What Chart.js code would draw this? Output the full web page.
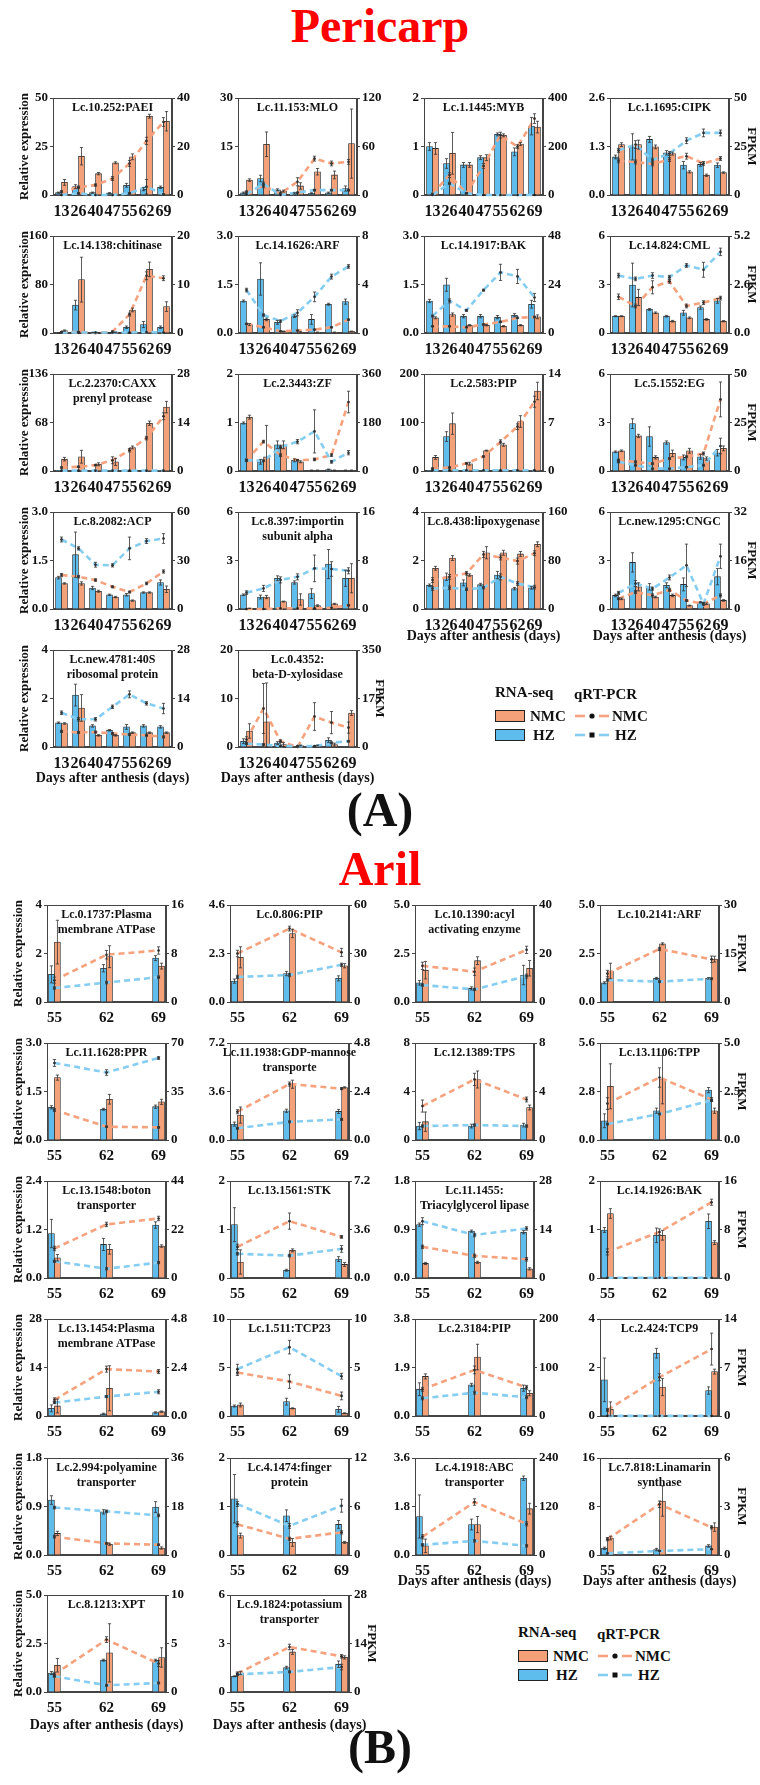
<!DOCTYPE html>
<html>
<head>
<meta charset="utf-8">
<script src="https://cdn.jsdelivr.net/npm/chart.js@4.4.1/dist/chart.umd.min.js"></script>
<style>
  body { margin: 0; background: #fff; }
  #page { position: relative; width: 760px; height: 1785px; overflow: hidden; background: #fff;
          font-family: "Liberation Serif", "Times New Roman", serif; font-weight: bold; color: #111; }
  #page canvas { position: absolute; }
  .txt { position: absolute; white-space: nowrap; }
  .big { font-size: 48px; line-height: 48px; }
  .red { color: #ff0000; }
  .leg { font-size: 15px; line-height: 18px; }
  .sw { position: absolute; width: 28px; height: 10px; border: 1px solid #222; }
</style>
</head>
<body>
<div id="page"></div>
<script>
"use strict";

// ---- data ----
const periDays = ["13", "26", "40", "47", "55", "62", "69"];
const arilDays = [55, 62, 69];

const periGenes = [
  "Lc.10.252:PAEI", "Lc.11.153:MLO", "Lc.1.1445:MYB", "Lc.1.1695:CIPK",
  "Lc.14.138:chitinase", "Lc.14.1626:ARF", "Lc.14.1917:BAK", "Lc.14.824:CML",
  "Lc.2.2370:CAXX\nprenyl protease", "Lc.2.3443:ZF", "Lc.2.583:PIP", "Lc.5.1552:EG",
  "Lc.8.2082:ACP", "Lc.8.397:importin\nsubunit alpha", "Lc.8.438:lipoxygenase", "Lc.new.1295:CNGC",
  "Lc.new.4781:40S\nribosomal protein", "Lc.0.4352:\nbeta-D-xylosidase"
];
const periLeftMax = ["50", "30", "2", "2.6", "160", "3.0", "3.0", "6", "136", "2", "200", "6", "3.0", "6", "4", "6", "4", "20"];
const periRightMax = ["40", "120", "400", "50", "20", "8", "48", "5.2", "28", "360", "14", "50", "60", "16", "160", "32", "28", "350"];

const periHzBar = [
  [1.2, 4.3, 1.2, 1.0, 5.0, 3.0, 4.0],
  [0.7, 5.1, 1.6, 0.5, 0.5, 0.7, 2.0],
  [1.0, 0.65, 0.62, 0.77, 1.25, 0.89, 1.42],
  [1.02, 1.29, 1.49, 1.13, 0.80, 0.82, 0.80],
  [0.5, 46, 0.5, 0.5, 9.5, 14, 9.5],
  [0.99, 1.67, 0.33, 0.52, 0.42, 0.89, 0.97],
  [0.99, 1.49, 0.52, 0.52, 0.49, 0.55, 0.89],
  [1.04, 2.97, 1.46, 1.04, 1.25, 1.57, 1.99],
  [0.5, 0.5, 0.5, 0.5, 1, 1, 1],
  [0.99, 0.19, 0.54, 0.22, 0.01, 0.03, 0.01],
  [0.5, 71, 1, 1, 1, 1, 1],
  [1.19, 2.93, 2.13, 1.76, 0.84, 0.88, 1.13],
  [0.97, 1.68, 0.65, 0.44, 0.44, 0.51, 0.82],
  [0.88, 0.74, 1.9, 1.64, 0.95, 2.78, 1.9],
  [0.98, 1.33, 1.08, 1.01, 1.40, 0.84, 0.87],
  [0.84, 2.88, 1.37, 1.47, 1.52, 0.42, 2.0],
  [1.0, 2.14, 0.87, 0.69, 0.83, 0.87, 0.83],
  [1.2, 0.1, 0.8, 0.1, 0.1, 1.4, 0.1]
];
const periHzBarErr = [
  [0.3, 1.0, 0.3, 0.2, 1.0, 0.8, 0.6],
  [0.2, 1.0, 0.3, 0.2, 0.2, 0.2, 0.8],
  [0.08, 0.1, 0.05, 0.04, 0.03, 0.08, 0.18],
  [0.05, 0.35, 0.08, 0.06, 0.1, 0.05, 0.06],
  [0.3, 8, 0.2, 0.2, 2, 5, 2],
  [0.03, 0.5, 0.06, 0.04, 0.15, 0.03, 0.08],
  [0.05, 0.2, 0.05, 0.05, 0.05, 0.05, 0.12],
  [0.03, 1.35, 0.06, 0.05, 0.15, 0.1, 0.15],
  [0, 0, 0, 0, 0, 0, 0],
  [0.02, 0.05, 0.08, 0.03, 0.01, 0.01, 0.01],
  [0, 10, 0, 0, 0, 0, 0],
  [0.05, 0.3, 0.6, 0.1, 0.15, 0.15, 0.2],
  [0.04, 0.7, 0.05, 0.02, 0.04, 0.02, 0.08],
  [0.05, 0.12, 0.15, 0.1, 0.3, 0.9, 0.5],
  [0.05, 0.15, 0.12, 0.05, 0.15, 0.05, 0.05],
  [0.08, 0.6, 0.2, 0.15, 0.4, 0.05, 0.5],
  [0.03, 0.45, 0.05, 0.03, 0.1, 0.05, 0.05],
  [0.5, 0, 0.3, 0, 0, 0.5, 0]
];
const periNmcBar = [
  [6.5, 20, 11, 16.6, 19.7, 40.6, 38],
  [4.6, 15.7, 1.2, 2.8, 7.2, 6.2, 15.9],
  [0.96, 0.86, 0.62, 0.77, 1.23, 1.05, 1.40],
  [1.35, 1.35, 1.29, 1.11, 0.62, 0.53, 0.60],
  [4, 88, 0.5, 1, 38, 105, 43.5],
  [0.26, 0.42, 0.05, 0.03, 0.02, 0.02, 0.05],
  [0.47, 0.57, 0.24, 0.24, 0.21, 0.24, 0.50],
  [1.04, 2.2, 1.25, 0.73, 0.94, 0.84, 0.73],
  [16.6, 20, 9.5, 12.8, 33, 67, 89.6],
  [1.11, 0.29, 0.54, 0.19, 0.01, 0.01, 0.01],
  [28, 97.6, 15, 42, 54, 102, 165],
  [1.25, 2.17, 0.84, 1.09, 1.25, 0.77, 1.40],
  [0.79, 0.79, 0.55, 0.37, 0.26, 0.51, 0.61],
  [0.04, 0.74, 0.46, 0.59, 0.21, 0.32, 1.9],
  [1.68, 2.1, 1.40, 2.32, 2.32, 2.27, 2.67],
  [0.63, 1.37, 0.74, 0.84, 0.21, 0.32, 0.53],
  [0.97, 1.61, 0.48, 0.48, 0.59, 0.59, 0.59],
  [3.3, 5.2, 0.5, 0.3, 0.3, 0.5, 7.0]
];
const periNmcBarErr = [
  [1.5, 4.5, 0.6, 0.5, 1.5, 1.0, 5.0],
  [0.4, 3.8, 0.3, 1.0, 1.0, 1.2, 10.7],
  [0.12, 0.43, 0.05, 0.06, 0.03, 0.03, 0.12],
  [0.05, 0.12, 0.05, 0.04, 0.03, 0.03, 0.02],
  [1, 37, 0.2, 0.5, 3, 12, 8],
  [0.03, 0.04, 0.01, 0.01, 0.01, 0.01, 0.01],
  [0.03, 0.05, 0.02, 0.02, 0.02, 0.02, 0.06],
  [0.03, 0.5, 0.05, 0.05, 0.05, 0.05, 0.04],
  [2.5, 9, 2, 5, 2, 3, 8],
  [0.04, 0.65, 0.08, 0.02, 0.01, 0.01, 0.01],
  [4, 22, 3, 1, 3, 12, 18],
  [0.05, 0.1, 0.1, 0.2, 0.15, 0.1, 0.15],
  [0.02, 0.05, 0.03, 0.02, 0.02, 0.02, 0.1],
  [0.01, 0.1, 0.03, 0.35, 0.05, 0.03, 0.9],
  [0.08, 0.1, 0.05, 0.25, 0.1, 0.1, 0.1],
  [0.05, 0.25, 0.05, 0.08, 0.03, 0.05, 0.05],
  [0.03, 0.55, 0.03, 0.03, 0.03, 0.03, 0.03],
  [1.5, 8, 0.4, 0.1, 0.1, 0.3, 0.5]
];
const periHzLine = [
  [0, 0.7, 0, 0, 0.7, 3.4, 0.3],
  [0.8, 14, 0, 3, 6, 6, 6],
  [0, 48, 7, 0, 0, 0, 0],
  [23, 26, 18, 21.4, 28, 32, 32],
  [0.1, 0.1, 0.1, 0.1, 0.1, 0.2, 0.1],
  [3.54, 1.48, 0.98, 1.67, 2.98, 4.65, 5.49],
  [8.4, 15.9, 11.2, 21.2, 30, 28, 17.6],
  [3.08, 2.9, 3.08, 2.99, 3.62, 3.39, 4.35],
  [0.1, 0.1, 0.1, 0.1, 0.1, 0.1, 0.1],
  [40, 38, 88, 109, 147, 34, 68],
  [0.1, 0.1, 0.1, 0.1, 0.1, 0.1, 0.1],
  [4.7, 3, 1.2, 1.2, 2, 3, 12.9],
  [43, 37.5, 27.4, 27, 37.5, 42, 43.6],
  [2.7, 3.4, 4.8, 5.3, 6.7, 6.6, 6.3],
  [33.7, 35, 32.6, 35, 53, 42, 36],
  [5.3, 8.4, 6.7, 10.4, 14.4, 1.7, 17.4],
  [9.9, 8.0, 8.0, 11.6, 15.2, 12.6, 11.1],
  [12, 9, 3, 3, 3, 15, 21]
];
const periHzLineErr = [
  [0, 0.2, 0, 0, 0.3, 3.0, 0.2],
  [0.3, 2, 0, 0.5, 1, 1, 1],
  [0, 5, 2, 0, 0, 0, 0],
  [1, 2, 1, 1, 1.5, 2, 1.5],
  [0, 0, 0, 0, 0, 0, 0],
  [0.15, 0.1, 0.1, 0.25, 0.4, 0.2, 0.15],
  [0.5, 1, 0.5, 0.5, 4, 3.5, 2],
  [0.12, 0.1, 0.15, 0.1, 0.1, 0.4, 0.2],
  [0, 0, 0, 0, 0, 0, 0],
  [3, 3, 5, 8, 80, 5, 8],
  [0, 0, 0, 0, 0, 0, 0],
  [0.5, 0.5, 0.3, 0.3, 0.3, 0.5, 4],
  [1.5, 1, 1.5, 1, 7, 1.5, 3],
  [0.3, 0.5, 0.5, 0.5, 2.2, 1.2, 0.5],
  [3, 3, 2, 2, 5, 3, 3],
  [0.5, 1, 0.5, 0.8, 7, 0.5, 4],
  [0.5, 0.5, 0.5, 0.5, 1, 0.5, 1.5],
  [3, 3, 1, 1, 1, 3, 3]
];
const periNmcLine = [
  [1.4, 3.2, 4.1, 6.8, 13, 22.3, 30.1],
  [4.1, 11, 2, 16.4, 45, 39, 41],
  [5, 82, 7, 120, 247, 199, 315],
  [17.6, 17, 16, 18.3, 20, 16.3, 18.8],
  [0.2, 0.2, 0, 0.3, 3.8, 11.8, 11.3],
  [0.75, 0.47, 0.14, 0.2, 0.28, 0.47, 1.1],
  [3.3, 3.3, 2.8, 4.2, 5.5, 7.5, 7.9],
  [1.94, 1.45, 2.45, 2.77, 1.45, 1.63, 1.87],
  [1, 1.2, 1.7, 3.1, 6, 9.5, 15.8],
  [40, 109, 59, 40, 43, 59, 256],
  [0.35, 0.5, 1.1, 2.1, 4.2, 6.4, 10],
  [5.6, 4.7, 3.8, 6.4, 7.3, 9, 36.9],
  [21, 20, 17.9, 13.7, 10.5, 15.8, 23.2],
  [0, 0, 0.1, 0.1, 0.1, 0.2, 0.6],
  [47.7, 53, 59, 90, 85, 79, 92],
  [3.4, 5.6, 4.5, 6.3, 2.8, 1.7, 4.5],
  [4.5, 4.2, 4.3, 3.9, 3.6, 3.4, 2.9],
  [27, 139, 21, 0, 110, 88, 70]
];
const periNmcLineErr = [
  [0.4, 0.5, 0.5, 0.8, 1.2, 1.5, 1.8],
  [1, 2, 0.5, 5, 3, 3, 3],
  [2, 10, 3, 10, 12, 8, 20],
  [1, 1, 1, 1, 1.5, 1, 1],
  [0.1, 0.1, 0, 0.1, 0.3, 0.8, 0.5],
  [0.05, 0.05, 0.03, 0.03, 0.03, 0.05, 0.05],
  [0.2, 0.2, 0.2, 0.3, 0.3, 0.3, 0.4],
  [0.15, 0.1, 0.35, 0.1, 0.1, 0.1, 0.1],
  [0.2, 0.2, 0.2, 1, 0.5, 0.5, 1],
  [5, 5, 5, 3, 5, 5, 40],
  [0.1, 0.1, 0.1, 0.1, 0.3, 0.4, 0.8],
  [0.5, 0.5, 0.5, 0.5, 0.5, 0.8, 9],
  [1, 0.8, 0.8, 0.6, 0.6, 0.8, 1],
  [0, 0, 0, 0, 0, 0, 0.1],
  [4, 4, 3, 5, 4, 5, 4],
  [0.3, 0.5, 0.5, 0.5, 0.3, 0.3, 0.5],
  [0.3, 0.3, 0.3, 0.3, 0.3, 0.3, 0.3],
  [10, 90, 5, 2, 50, 40, 20]
];

const arilGenes = [
  "Lc.0.1737:Plasma\nmembrane ATPase", "Lc.0.806:PIP", "Lc.10.1390:acyl\nactivating enzyme", "Lc.10.2141:ARF",
  "Lc.11.1628:PPR", "Lc.11.1938:GDP-mannose\ntransporte", "Lc.12.1389:TPS", "Lc.13.1106:TPP",
  "Lc.13.1548:boton\ntransporter", "Lc.13.1561:STK", "Lc.11.1455:\nTriacylglycerol lipase", "Lc.14.1926:BAK",
  "Lc.13.1454:Plasma\nmembrane ATPase", "Lc.1.511:TCP23", "Lc.2.3184:PIP", "Lc.2.424:TCP9",
  "Lc.2.994:polyamine\ntransporter", "Lc.4.1474:finger\nprotein", "Lc.4.1918:ABC\ntransporter", "Lc.7.818:Linamarin\nsynthase",
  "Lc.8.1213:XPT", "Lc.9.1824:potassium\ntransporter"
];
const arilLeftMax = ["4", "4.6", "5.0", "5.0", "3.0", "7.2", "8", "5.6", "2.4", "2", "1.8", "2", "28", "10", "3.8", "4", "1.8", "2", "3.6", "16", "5.0", "6"];
const arilRightMax = ["16", "60", "40", "30", "70", "4.8", "8", "5.0", "44", "7.2", "28", "16", "4.8", "10", "200", "14", "36", "12", "240", "6", "10", "28"];

const arilHzBar = [
  [1.14, 1.39, 1.81], [0.99, 1.35, 1.12], [0.99, 0.7, 1.39], [0.99, 1.22, 1.22],
  [1.01, 0.95, 1.03], [1.18, 2.17, 2.12], [1.15, 1.15, 1.23], [1.11, 1.69, 2.88],
  [1.1, 0.83, 1.31], [1.1, 0.16, 0.39], [0.99, 0.87, 0.85], [0.99, 0.88, 1.17],
  [2.2, 0.6, 1], [1.03, 1.48, 0.69], [1.05, 1.22, 1.09], [1.49, 2.59, 1.05],
  [1.02, 0.8, 0.89], [1.16, 0.81, 0.63], [1.43, 1.13, 2.85], [1.1, 0.9, 1.5],
  [0.98, 1.64, 1.64], [0.97, 1.51, 1.72]
];
const arilHzBarErr = [
  [0.35, 0.15, 0.1], [0.1, 0.1, 0.12], [0.12, 0.08, 0.5], [0.05, 0.05, 0.04],
  [0.05, 0.03, 0.05], [0.15, 0.12, 0.15], [0.3, 0.15, 0.15], [0.4, 0.15, 0.15],
  [0.35, 0.15, 0.08], [0.35, 0.02, 0.05], [0.03, 0.02, 0.03], [0.05, 0.15, 0.15],
  [1, 0.2, 0.2], [0.1, 0.35, 0.3], [0.25, 0.06, 0.12], [0.9, 0.2, 0.15],
  [0.08, 0.04, 0.1], [0.5, 0.12, 0.08], [0.8, 0.2, 0.08], [0.2, 0.2, 0.2],
  [0.08, 0.05, 0.05], [0.03, 0.08, 0.2]
];
const arilNmcBar = [
  [2.47, 1.87, 1.48], [2.12, 3.25, 1.72], [1.64, 2.13, 1.74], [1.6, 3.0, 2.21],
  [1.93, 1.26, 1.18], [1.85, 4.14, 3.9], [1.51, 4.99, 2.68], [3.1, 3.49, 1.69],
  [0.50, 0.71, 0.79], [0.33, 0.57, 0.28], [0.27, 0.29, 0.17], [1.33, 0.88, 0.73],
  [2.9, 8.0, 1.25], [1.14, 0.79, 0.28], [1.55, 2.31, 0.89], [0.28, 1.19, 1.83],
  [0.40, 0.2, 0.13], [0.4, 0.26, 0.26], [0.34, 1.13, 1.72], [2.8, 8.9, 4.6],
  [1.38, 2.02, 1.78], [1.18, 2.48, 2.14]
];
const arilNmcBarErr = [
  [0.9, 0.45, 0.12], [0.5, 0.2, 0.1], [0.45, 0.2, 0.4], [0.4, 0.05, 0.15],
  [0.08, 0.15, 0.08], [0.6, 0.3, 0.05], [0.8, 0.7, 0.2], [1.3, 1.4, 0.15],
  [0.08, 0.12, 0.03], [0.25, 0.03, 0.04], [0.02, 0.02, 0.02], [0.1, 0.1, 0.04],
  [2, 6.5, 0.2], [0.2, 0.05, 0.05], [0.1, 0.5, 0.1], [0.3, 0.35, 0.1],
  [0.04, 0.02, 0.02], [0.05, 0.08, 0.02], [0.25, 0.3, 0.2], [0.3, 2.5, 0.7],
  [0.35, 1.5, 0.5], [0.1, 0.15, 0.1]
];
const arilHzLine = [
  [2.3, 3.2, 4.1], [15.5, 16.7, 23], [7, 5.2, 10.7], [6.8, 6.3, 7.2],
  [55.6, 48.7, 59.2], [0.58, 0.9, 1.02], [1.15, 1.23, 1.15], [0.82, 1.34, 2.05],
  [7.6, 4.2, 7], [1.8, 1.66, 2.16], [16.4, 12.4, 14.3], [0.05, 0.05, 0.05],
  [0.66, 0.96, 1.2], [4.83, 7.1, 4.1], [36.5, 48, 38.6], [0.02, 0.02, 0.02],
  [17.6, 16.2, 14.7], [6.3, 3.6, 6.1], [25, 35, 22.6], [0.1, 0.25, 0.36],
  [1.62, 0.69, 0.93], [5.1, 5.8, 7.2]
];
const arilHzLineErr = [
  [0.2, 0.2, 0.2], [1, 1, 1], [0.5, 0.5, 0.8], [0.4, 0.3, 0.3],
  [2.5, 2, 1], [0.05, 0.05, 0.05], [0.1, 0.1, 0.1], [0.05, 0.05, 0.05],
  [0.5, 0.5, 0.5], [0.1, 0.1, 0.25], [1, 0.5, 0.5], [0, 0, 0],
  [0.05, 0.05, 0.1], [0.5, 0.7, 0.3], [3, 3, 3], [0, 0, 0],
  [0.5, 0.5, 0.5], [0.3, 0.3, 0.8], [3, 3, 3], [0.03, 0.03, 0.03],
  [0.1, 0.1, 0.1], [0.3, 0.3, 0.8]
];
const arilNmcLine = [
  [3.6, 7.8, 8.5], [30, 45.4, 30.7], [14.9, 12.5, 21.5], [8.8, 16.4, 13.2],
  [21.6, 9.6, 9.1], [1.4, 2.77, 2.54], [2.8, 5.0, 3.34], [1.88, 3.22, 2.09],
  [13.4, 24.3, 27], [2.31, 4.22, 3.05], [9, 6.4, 5.4], [4.3, 7.6, 12.5],
  [0.8, 2.32, 2.2], [4.48, 3.55, 2.07], [55, 95, 59], [0.87, 5.6, 9.66],
  [6.8, 4.3, 3.8], [3.8, 2.0, 2.8], [45, 131, 77], [0.98, 3.14, 1.71],
  [1.83, 5.4, 2.93], [5.3, 13, 10.3]
];
const arilNmcLineErr = [
  [0.5, 0.7, 0.6], [2, 1.5, 2.5], [1.5, 1.5, 1.5], [1, 0.5, 1],
  [1, 0.5, 0.5], [0.1, 0.1, 0.05], [0.5, 0.5, 0.2], [0.3, 0.5, 0.1],
  [1, 1, 1], [0.2, 0.6, 0.1], [0.5, 0.5, 0.5], [0.5, 0.5, 0.5],
  [0.1, 0.15, 0.1], [0.3, 0.7, 0.4], [4, 8, 4], [0.2, 0.5, 2.3],
  [0.5, 0.3, 0.3], [0.3, 0.2, 0.2], [5, 8, 5], [0.1, 0.2, 0.1],
  [0.2, 0.3, 0.3], [0.5, 0.8, 0.5]
];

// ---- style ----
const FONT = '"Liberation Serif", "Times New Roman", serif';
const ORANGE = "#F4A078";
const BLUE = "#5EBDED";
const ORANGE_LINE = "#F6A27E";
const BLUE_LINE = "#86CDF2";
const AXIS = "#444";

Chart.defaults.font.family = FONT;
Chart.defaults.font.weight = "bold";
Chart.defaults.color = "#111";

const page = document.getElementById("page");

// error bars for every bar and line point
const errorBars = {
  id: "errorBars",
  afterDatasetsDraw(chart) {
    const ctx = chart.ctx;
    ctx.save();
    ctx.strokeStyle = "#333";
    ctx.lineWidth = 0.8;
    chart.data.datasets.forEach((ds, i) => {
      const meta = chart.getDatasetMeta(i);
      const sc = chart.scales[ds.yAxisID];
      meta.data.forEach((el, j) => {
        const e = ds.errors[j];
        if (!e) return;
        const d = ds.data[j];
        const v = typeof d === "object" ? d.y : d;
        const x = el.x;
        const y1 = sc.getPixelForValue(v + e);
        const y2 = sc.getPixelForValue(Math.max(v - e, 0));
        ctx.beginPath();
        ctx.moveTo(x, y1); ctx.lineTo(x, y2);
        ctx.moveTo(x - 1.6, y1); ctx.lineTo(x + 1.6, y1);
        ctx.moveTo(x - 1.6, y2); ctx.lineTo(x + 1.6, y2);
        ctx.stroke();
      });
    });
    ctx.restore();
  }
};

// box round the plot
const frame = {
  id: "frame",
  beforeDatasetsDraw(chart) {
    const { ctx, chartArea: a } = chart;
    ctx.save();
    ctx.strokeStyle = AXIS;
    ctx.lineWidth = 1;
    ctx.strokeRect(Math.round(a.left) + 0.5, Math.round(a.top) + 0.5, Math.round(a.width) - 1, Math.round(a.height) - 1);
    ctx.restore();
  }
};

// gene name inside the box, axis titles outside
const panelText = {
  id: "panelText",
  afterDraw(chart, args, o) {
    const { ctx, chartArea: a } = chart;
    const cx = (a.left + a.right) / 2, cy = (a.top + a.bottom) / 2;
    ctx.save();
    ctx.fillStyle = "#111";
    ctx.textAlign = "center";
    ctx.font = "bold 12px " + FONT;
    o.name.split("\n").forEach((t, k) => ctx.fillText(t, cx, a.top + 13 + k * 15));
    ctx.textBaseline = "middle";
    ctx.font = "bold 13px " + FONT;
    if (o.yTitle) {
      ctx.save();
      ctx.translate(a.left - 28, cy);
      ctx.rotate(-Math.PI / 2);
      ctx.fillText(o.yTitle, 0, 0);
      ctx.restore();
    }
    if (o.rTitle) {
      ctx.save();
      ctx.translate(a.right + 22, cy);
      ctx.rotate(Math.PI / 2);
      ctx.fillText(o.rTitle, 0, 0);
      ctx.restore();
    }
    if (o.xTitle) {
      ctx.textBaseline = "alphabetic";
      ctx.font = "bold 14px " + FONT;
      ctx.fillText(o.xTitle, cx, a.bottom + o.xGap);
    }
    ctx.restore();
  }
};

function yAxis(pos, maxStr, width) {
  const max = parseFloat(maxStr);
  const dec = maxStr.includes(".") ? maxStr.split(".")[1].length : 0;
  return {
    type: "linear",
    position: pos,
    min: 0,
    max: max,
    afterBuildTicks: s => { s.ticks = [0, max / 2, max].map(v => ({ value: v })); },
    afterFit: s => { s.width = width; },
    ticks: { callback: v => Number(v).toFixed(dec), font: { size: 13, weight: "bold" }, color: "#111", padding: 2 },
    grid: { drawOnChartArea: false, drawTicks: true, tickLength: 3, color: AXIS },
    border: { color: AXIS, width: 1 }
  };
}

function addPanel(p) {
  const padL = 44, padR = 30, padT = 10, W = 119, H = 97;
  const padB = p.xGap ? p.xGap + 8 : 26;
  const cv = document.createElement("canvas");
  cv.width = padL + W + padR;
  cv.height = padT + H + padB;
  cv.style.left = (p.left - padL) + "px";
  cv.style.top = (p.top - padT) + "px";
  page.appendChild(cv);

  const linear = p.linearX;
  const pts = arr => linear ? arr.map((v, k) => ({ x: p.days[k], y: v })) : arr;
  const xScale = linear ? {
    type: "linear", min: 54, max: 70, offset: false,
    afterBuildTicks: s => { s.ticks = p.days.map(v => ({ value: v })); },
    ticks: { font: { size: 15, weight: "bold" }, color: "#111", padding: -1, autoSkip: false, maxRotation: 0 },
    grid: { display: false },
    border: { color: AXIS, width: 1 },
    afterFit: s => { s.height = padB; }
  } : {
    type: "category",
    ticks: { font: { size: 16, weight: "bold" }, color: "#111", padding: -1, autoSkip: false, maxRotation: 0, minRotation: 0 },
    grid: { display: false },
    border: { color: AXIS, width: 1 },
    afterFit: s => { s.height = padB; }
  };

  new Chart(cv, {
    type: "bar",
    data: {
      labels: linear ? undefined : p.days,
      datasets: [
        { type: "bar", label: "HZ", data: pts(p.hzBar), errors: p.hzBarErr, yAxisID: "y",
          backgroundColor: BLUE, borderColor: "#2b2b2b", borderWidth: 0.8, barThickness: 6, order: 2 },
        { type: "bar", label: "NMC", data: pts(p.nmcBar), errors: p.nmcBarErr, yAxisID: "y",
          backgroundColor: ORANGE, borderColor: "#2b2b2b", borderWidth: 0.8, barThickness: 6, order: 2 },
        { type: "line", label: "HZ", data: pts(p.hzLine), errors: p.hzLineErr, yAxisID: "y2",
          borderColor: BLUE_LINE, borderWidth: 2.6, borderDash: [6, 4], pointRadius: 1.3,
          pointBackgroundColor: "#222", pointBorderWidth: 0, tension: 0, clip: 4, order: 1 },
        { type: "line", label: "NMC", data: pts(p.nmcLine), errors: p.nmcLineErr, yAxisID: "y2",
          borderColor: ORANGE_LINE, borderWidth: 2.6, borderDash: [6, 4], pointRadius: 1.3,
          pointBackgroundColor: "#222", pointBorderWidth: 0, tension: 0, clip: 4, order: 1 }
      ]
    },
    options: {
      responsive: false,
      animation: false,
      layout: { padding: { top: padT, left: 0, right: 0, bottom: 0 } },
      plugins: {
        legend: { display: false },
        tooltip: { enabled: false },
        panelText: { name: p.name, yTitle: p.yTitle, rTitle: p.rTitle, xTitle: p.xTitle, xGap: p.xGap }
      },
      scales: {
        x: xScale,
        y: yAxis("left", p.lmax, padL),
        y2: yAxis("right", p.rmax, padR)
      }
    },
    plugins: [frame, errorBars, panelText]
  });
}

function addSection(s) {
  const n = s.genes.length;
  const lastRow = Math.floor((n - 1) / 4);
  s.genes.forEach((name, i) => {
    const r = Math.floor(i / 4), c = i % 4;
    const hasX = i + 4 >= n;
    addPanel({
      name: name,
      left: s.cols[c],
      top: s.rows[r],
      days: s.days,
      linearX: s.linearX,
      lmax: s.lmax[i],
      rmax: s.rmax[i],
      hzBar: s.hzBar[i], hzBarErr: s.hzBarErr[i],
      nmcBar: s.nmcBar[i], nmcBarErr: s.nmcBarErr[i],
      hzLine: s.hzLine[i], hzLineErr: s.hzLineErr[i],
      nmcLine: s.nmcLine[i], nmcLineErr: s.nmcLineErr[i],
      yTitle: c === 0 ? "Relative expression" : null,
      rTitle: (c === 3 || i === n - 1) ? "FPKM" : null,
      xTitle: hasX ? "Days after anthesis (days)" : null,
      xGap: hasX ? (r === lastRow ? s.lastGap : s.midGap) : 0
    });
  });
}

addSection({
  genes: periGenes, days: periDays, linearX: false,
  cols: [53, 238, 424, 610], rows: [98, 236, 374, 512, 650],
  lmax: periLeftMax, rmax: periRightMax,
  hzBar: periHzBar, hzBarErr: periHzBarErr, nmcBar: periNmcBar, nmcBarErr: periNmcBarErr,
  hzLine: periHzLine, hzLineErr: periHzLineErr, nmcLine: periNmcLine, nmcLineErr: periNmcLineErr,
  midGap: 31, lastGap: 35
});

addSection({
  genes: arilGenes, days: arilDays, linearX: true,
  cols: [47, 230, 415, 600], rows: [905, 1043, 1181, 1319, 1458, 1595],
  lmax: arilLeftMax, rmax: arilRightMax,
  hzBar: arilHzBar, hzBarErr: arilHzBarErr, nmcBar: arilNmcBar, nmcBarErr: arilNmcBarErr,
  hzLine: arilHzLine, hzLineErr: arilHzLineErr, nmcLine: arilNmcLine, nmcLineErr: arilNmcLineErr,
  midGap: 30, lastGap: 37
});

// ---- titles and legends ----
function text(str, left, top, cls, center) {
  const d = document.createElement("div");
  d.className = "txt " + cls;
  d.textContent = str;
  d.style.top = top + "px";
  if (center) { d.style.left = "0"; d.style.width = "760px"; d.style.textAlign = "center"; }
  else d.style.left = left + "px";
  page.appendChild(d);
  return d;
}

text("Pericarp", 0, 2, "big red", true);
text("(A)", 0, 786, "big", true);
text("Aril", 0, 845, "big red", true);
text("(B)", 0, 1723, "big", true);

function dashKey(left, top, color, square) {
  const ns = "http://www.w3.org/2000/svg";
  const svg = document.createElementNS(ns, "svg");
  svg.setAttribute("width", "34");
  svg.setAttribute("height", "10");
  svg.style.position = "absolute";
  svg.style.left = left + "px";
  svg.style.top = top + "px";
  [[0, 10], [24, 34]].forEach(([a, b]) => {
    const l = document.createElementNS(ns, "line");
    l.setAttribute("x1", a); l.setAttribute("x2", b);
    l.setAttribute("y1", 5); l.setAttribute("y2", 5);
    l.setAttribute("stroke", color); l.setAttribute("stroke-width", "2.6");
    svg.appendChild(l);
  });
  const m = document.createElementNS(ns, square ? "rect" : "circle");
  if (square) { m.setAttribute("x", 14.5); m.setAttribute("y", 2.5); m.setAttribute("width", 5); m.setAttribute("height", 5); }
  else { m.setAttribute("cx", 17); m.setAttribute("cy", 5); m.setAttribute("r", 2.6); }
  m.setAttribute("fill", "#111");
  svg.appendChild(m);
  page.appendChild(svg);
}

function swatch(left, top, color) {
  const d = document.createElement("div");
  d.className = "sw";
  d.style.left = left + "px";
  d.style.top = top + "px";
  d.style.background = color;
  page.appendChild(d);
}

function legend(x, y) {
  text("RNA-seq", x, y, "leg");
  text("qRT-PCR", x + 79, y + 2, "leg");
  swatch(x, y + 27, ORANGE);
  text("NMC", x + 35, y + 24, "leg");
  dashKey(x + 80, y + 28, ORANGE_LINE, false);
  text("NMC", x + 117, y + 24, "leg");
  swatch(x, y + 46, BLUE);
  text("HZ", x + 38, y + 43, "leg");
  dashKey(x + 80, y + 47, BLUE_LINE, true);
  text("HZ", x + 120, y + 43, "leg");
}

legend(495, 683);
legend(518, 1623);
</script>
</body>
</html>
